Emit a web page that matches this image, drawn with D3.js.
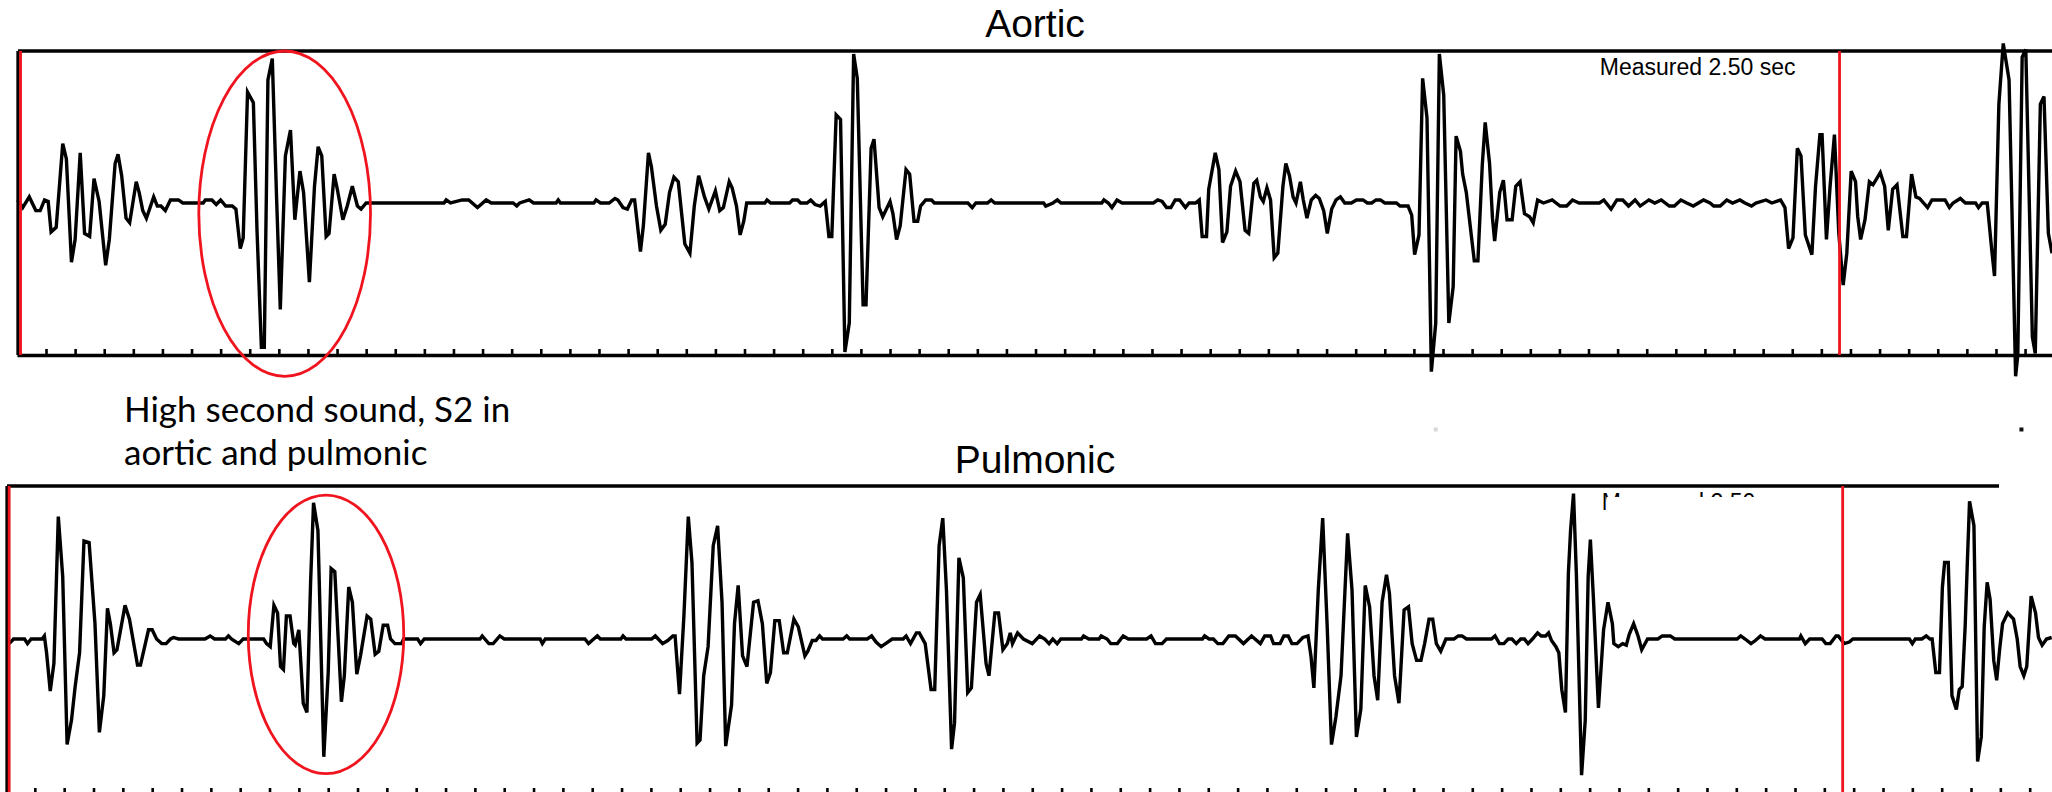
<!DOCTYPE html>
<html>
<head>
<meta charset="utf-8">
<script src="https://cdn.jsdelivr.net/npm/d3@7"></script>
<style>
  body { margin: 0; background: #fff; }
  .trace { fill: none; stroke: #000; stroke-width: 3.4; }
  .frame { stroke: #000; stroke-width: 3.3; }
  .cursor { stroke: #f0141e; stroke-width: 2.8; }
  .ring { fill: none; stroke: #f0141e; stroke-width: 2.8; }
  .title { font-family: "Liberation Sans", Arial, sans-serif; font-size: 39px; }
  .measured { font-family: "Liberation Sans", Arial, sans-serif; font-size: 23px; }
  .note { font-family: Lato, "Open Sans", sans-serif; font-size: 35px; }
</style>
</head>
<body>
<script>
const width = 2052;
const height = 792;

// Datos: tiempo en ms, amplitud relativa (-100..100 = alto del marco)
const panelTitles = ["Aortic", "Pulmonic"];
const measuredLabel = "Measured 2.50 sec";
const measuredAt = 2310;          // ms, centro de la etiqueta
const cursorTimes = [5, 2505];    // ms, cursores rojos (2.50 s)
const tickStep = 40;              // ms
const timeMax = 2800;
const noteLines = ["High second sound, S2 in", "aortic and pulmonic"];

const aorticTrace = [[1,2],[8,-3],[17,4],[26,-5],[32,-5],[38,2],[43,1],[47,-19],[54,-16],[63,39],[68,29],[75,-39],[80,-24],[87,33],[93,-20],[100,-22],[106,16],[113,1],[122,-41],[127,-24],[135,26],[139,32],[144,18],[150,-10],[155,-13],[164,14],[168,7],[173,-5],[178,-10],[188,4],[193,-2],[198,-2],[204,-5],[211,2],[222,2],[228,0],[256,0],[259,2],[268,2],[274,-1],[280,2],[287,-2],[296,-2],[301,-4],[307,-30],[311,-23],[317,73],[325,66],[330,-18],[336,-95],[340,-95],[345,81],[351,95],[357,2],[362,-70],[369,31],[376,48],[382,-11],[389,21],[394,7],[402,-52],[409,11],[414,37],[419,31],[425,-22],[429,-20],[436,19],[440,10],[448,-11],[454,-2],[461,11],[468,-2],[473,-4],[480,0],[587,0],[590,2],[596,0],[612,2],[621,2],[633,-3],[645,2],[652,0],[682,0],[687,-2],[691,0],[704,2],[710,0],[741,0],[744,2],[747,0],[793,0],[796,2],[802,0],[814,0],[822,3],[826,2],[833,-3],[839,-4],[845,2],[849,2],[857,-32],[861,-15],[868,33],[872,24],[879,-2],[885,-18],[891,-14],[897,7],[903,17],[909,14],[918,-27],[925,-33],[931,-2],[937,18],[945,4],[951,-4],[960,8],[966,-5],[971,-3],[979,14],[983,10],[989,-2],[994,-21],[999,-12],[1003,0],[1028,0],[1031,2],[1036,0],[1062,0],[1066,2],[1073,2],[1077,0],[1086,0],[1091,2],[1097,-1],[1104,-2],[1111,1],[1116,-22],[1120,-22],[1126,58],[1132,55],[1138,-98],[1144,-79],[1150,98],[1155,82],[1163,-67],[1167,-67],[1174,36],[1178,42],[1185,-3],[1190,-9],[1200,1],[1204,-7],[1209,-24],[1214,-15],[1222,22],[1227,19],[1233,-12],[1238,-12],[1242,-2],[1249,2],[1257,2],[1261,0],[1307,0],[1313,-3],[1318,0],[1334,0],[1339,2],[1344,0],[1411,0],[1414,-2],[1424,0],[1430,2],[1435,0],[1491,0],[1494,2],[1500,0],[1505,-3],[1512,2],[1519,0],[1562,0],[1568,2],[1574,1],[1580,-3],[1586,-3],[1592,2],[1598,2],[1606,-3],[1611,0],[1620,0],[1625,2],[1629,-22],[1635,-22],[1638,9],[1647,33],[1652,22],[1657,-26],[1663,-19],[1668,11],[1675,21],[1681,14],[1688,-18],[1693,-20],[1700,13],[1704,15],[1709,4],[1713,1],[1718,10],[1723,2],[1728,-36],[1733,-33],[1740,11],[1744,26],[1749,18],[1754,4],[1758,0],[1764,14],[1768,2],[1773,-10],[1779,2],[1785,5],[1790,3],[1796,-5],[1801,-20],[1807,-4],[1813,2],[1819,4],[1825,0],[1834,0],[1841,2],[1850,2],[1856,0],[1862,0],[1868,2],[1874,2],[1880,0],[1896,0],[1901,-2],[1912,-2],[1917,-8],[1921,-34],[1927,-21],[1932,82],[1938,56],[1944,-111],[1950,-79],[1955,98],[1961,71],[1968,-79],[1974,-55],[1978,44],[1984,34],[1987,19],[1992,7],[2003,-38],[2008,-38],[2014,25],[2018,53],[2024,26],[2028,-10],[2031,-25],[2038,7],[2043,15],[2048,-11],[2055,-11],[2060,11],[2066,14],[2072,-7],[2079,-9],[2084,-13],[2090,2],[2098,0],[2110,2],[2121,-2],[2130,-2],[2138,2],[2147,0],[2175,0],[2181,2],[2191,-4],[2199,2],[2207,2],[2215,-2],[2224,2],[2231,-2],[2243,2],[2251,0],[2260,2],[2271,-2],[2278,-2],[2287,2],[2295,0],[2304,-2],[2318,2],[2327,0],[2332,-2],[2341,-2],[2350,2],[2358,0],[2368,2],[2375,0],[2384,-2],[2390,0],[2404,2],[2412,0],[2424,2],[2430,-3],[2435,-30],[2441,-23],[2447,36],[2452,31],[2458,-21],[2467,-34],[2472,11],[2478,45],[2481,45],[2487,-24],[2492,11],[2498,45],[2504,-20],[2510,-54],[2515,-33],[2521,21],[2527,14],[2530,-9],[2534,-24],[2540,-11],[2546,14],[2551,12],[2561,20],[2567,11],[2572,-18],[2578,9],[2584,12],[2592,-22],[2597,-22],[2604,19],[2610,4],[2615,3],[2626,-3],[2632,2],[2650,2],[2656,-3],[2661,0],[2671,3],[2678,0],[2692,0],[2696,-3],[2701,0],[2708,0],[2714,-30],[2718,-48],[2724,65],[2730,105],[2738,81],[2747,-114],[2750,-100],[2756,96],[2761,101],[2770,-88],[2774,-99],[2781,65],[2786,70],[2792,-20],[2797,-33]];

const pulmonicTrace = [[5,-3],[11,0],[26,0],[30,-3],[35,0],[50,0],[53,2],[56,-9],[61,-34],[66,-16],[72,80],[78,41],[84,-69],[90,-53],[95,-31],[101,-9],[107,64],[114,63],[122,10],[128,-61],[134,-37],[139,20],[143,10],[148,-9],[152,-7],[163,22],[169,13],[180,-17],[184,-17],[195,6],[200,6],[206,0],[213,-3],[219,-3],[225,0],[229,1],[236,0],[272,0],[279,2],[285,0],[300,0],[304,2],[308,0],[318,-3],[324,0],[352,0],[356,-3],[361,-5],[366,22],[371,17],[375,-18],[379,-20],[383,15],[388,15],[393,-3],[395,-4],[400,6],[406,-42],[411,-48],[416,37],[420,89],[426,71],[434,-77],[440,-22],[444,46],[449,44],[458,-41],[462,-24],[468,34],[473,24],[479,-23],[484,-11],[493,15],[498,13],[504,-10],[509,-8],[515,9],[521,9],[525,0],[531,-3],[540,-3],[543,0],[562,0],[566,-3],[571,0],[647,0],[650,2],[659,-3],[665,-3],[674,2],[680,0],[729,0],[732,-3],[736,0],[790,0],[795,-3],[802,0],[807,2],[811,0],[839,0],[842,2],[846,0],[881,0],[886,2],[890,0],[896,-3],[903,-1],[910,2],[913,2],[919,-36],[925,15],[931,80],[936,50],[943,-68],[947,-66],[952,-24],[958,-5],[965,61],[971,74],[977,24],[982,-70],[990,-43],[994,10],[999,35],[1005,-11],[1011,-18],[1020,24],[1026,25],[1032,10],[1038,-29],[1043,-22],[1049,12],[1055,12],[1061,-9],[1066,-9],[1075,13],[1081,8],[1090,-11],[1094,-8],[1100,-1],[1105,-1],[1110,2],[1114,0],[1142,0],[1147,2],[1151,0],[1175,0],[1181,2],[1187,-2],[1194,-5],[1200,-3],[1209,0],[1224,0],[1228,2],[1234,-3],[1242,4],[1246,4],[1254,-3],[1262,-33],[1267,-33],[1273,61],[1278,79],[1283,32],[1290,-72],[1294,-55],[1300,53],[1306,40],[1312,-35],[1317,-32],[1324,24],[1329,29],[1337,-16],[1341,-24],[1349,17],[1354,17],[1360,-7],[1366,-3],[1370,4],[1373,-3],[1380,4],[1388,0],[1400,-3],[1410,2],[1417,0],[1423,-3],[1428,0],[1434,-3],[1439,0],[1467,0],[1470,2],[1477,0],[1491,0],[1494,2],[1502,0],[1507,-3],[1516,-3],[1524,2],[1531,0],[1556,0],[1562,2],[1568,-3],[1577,-3],[1583,0],[1632,0],[1635,2],[1641,0],[1647,0],[1653,-3],[1660,-3],[1668,2],[1677,2],[1688,-3],[1699,2],[1711,-3],[1717,2],[1725,2],[1729,-3],[1738,-3],[1743,2],[1749,2],[1754,-3],[1761,-3],[1769,1],[1776,2],[1780,-11],[1784,-32],[1790,32],[1796,79],[1802,10],[1808,-69],[1814,-51],[1821,-24],[1830,69],[1836,32],[1842,-64],[1848,-46],[1854,35],[1860,21],[1866,-24],[1871,-40],[1877,24],[1883,42],[1887,30],[1894,-24],[1900,-42],[1907,19],[1913,21],[1918,-3],[1924,-14],[1930,-14],[1935,-3],[1941,13],[1946,13],[1951,-3],[1957,-8],[1964,0],[1975,0],[1981,2],[1986,2],[1992,0],[2026,0],[2031,2],[2037,-3],[2043,-3],[2049,0],[2054,0],[2060,-3],[2066,0],[2071,0],[2076,-3],[2082,0],[2089,4],[2094,2],[2100,2],[2104,4],[2108,-1],[2114,-5],[2118,-9],[2122,-33],[2127,-48],[2131,43],[2134,71],[2138,95],[2142,41],[2149,-89],[2154,-53],[2158,41],[2161,65],[2165,28],[2172,-45],[2179,6],[2185,24],[2191,10],[2193,-3],[2199,-5],[2205,-3],[2210,-4],[2214,3],[2220,10],[2226,2],[2231,-7],[2239,0],[2253,0],[2259,2],[2270,2],[2276,0],[2361,0],[2366,2],[2372,0],[2380,-3],[2386,-1],[2393,2],[2399,0],[2446,0],[2448,2],[2454,-3],[2460,0],[2477,0],[2482,-3],[2488,-3],[2496,2],[2499,2],[2507,-3],[2514,-2],[2519,0],[2596,0],[2600,-3],[2604,0],[2613,0],[2619,2],[2624,0],[2627,0],[2632,-22],[2637,-22],[2641,34],[2644,50],[2649,50],[2654,-37],[2660,-46],[2664,-33],[2668,-31],[2672,8],[2675,50],[2678,90],[2684,74],[2689,-80],[2694,-64],[2698,8],[2702,37],[2706,26],[2711,-14],[2715,-27],[2719,-7],[2723,10],[2730,17],[2738,13],[2743,0],[2747,-18],[2752,-24],[2756,-18],[2762,28],[2768,17],[2772,1],[2777,-4],[2783,0],[2790,1]];

// Elipses rojas alrededor del S2 (centro y semiejes en ms / amplitud)
const s2Rings = [
  { t: 368, halfT: 118, a: -7, halfA: 107 },
  { t: 437, halfT: 106, a: 3, halfA: 91 }
];
// Restos sueltos de la traza aórtica bajo el marco
const strayMarks = [
  { t: 1950, a: -149, faint: true },
  { t: 2755, a: -149, faint: false }
];

// Diseño de cada panel (posiciones en píxeles)
const panels = [
  { title: panelTitles[0], trace: aorticTrace, ring: s2Rings[0],
    x0: 16.9, pxPerMs: 0.7276, top: 51, bottom: 355, axisY: 355,
    frameLeft: 18, frameRight: 2052, titleY: 37, labelY: 75, labelCut: null },
  { title: panelTitles[1], trace: pulmonicTrace, ring: s2Rings[1],
    x0: 5.5, pxPerMs: 0.7334, top: 486, bottom: 792, axisY: 794,
    frameLeft: 7, frameRight: 1999, titleY: 473, labelY: 510, labelCut: 497 }
];

const svg = d3.select("body").append("svg")
    .attr("width", width)
    .attr("height", height);

svg.append("rect").attr("width", width).attr("height", height).attr("fill", "#fff");

panels.forEach((p, i) => {
    const x = d3.scaleLinear()
        .domain([0, timeMax])
        .range([p.x0, p.x0 + timeMax * p.pxPerMs]);
    const y = d3.scaleLinear()
        .domain([-100, 100])
        .range([p.bottom, p.top]);

    const g = svg.append("g").attr("class", "panel");

    // titulo
    g.append("text")
        .attr("class", "title")
        .attr("x", 1035)
        .attr("y", p.titleY)
        .attr("text-anchor", "middle")
        .text(p.title);

    // etiqueta de medida
    g.append("text")
        .attr("class", "measured")
        .attr("x", x(measuredAt))
        .attr("y", p.labelY)
        .attr("text-anchor", "middle")
        .text(measuredLabel);
    if (p.labelCut) {
        // en el panel inferior la etiqueta queda tapada casi entera
        g.append("rect")
            .attr("x", x(measuredAt) - 93)
            .attr("y", p.labelCut)
            .attr("width", 196)
            .attr("height", 18)
            .attr("fill", "#fff");
    }

    // eje inferior con marcas cada 40 ms
    const axis = d3.axisTop(x)
        .tickValues(d3.range(tickStep, timeMax + 1, tickStep))
        .tickSize(6)
        .tickSizeOuter(0)
        .tickFormat("");
    g.append("g")
        .attr("transform", `translate(0,${p.axisY})`)
        .call(axis)
        .call(a => a.select(".domain").attr("stroke-width", 3.3))
        .call(a => a.selectAll(".tick line").attr("stroke-width", 2.6));

    // marco superior e izquierdo
    g.append("line").attr("class", "frame")
        .attr("x1", p.frameLeft).attr("x2", p.frameRight)
        .attr("y1", p.top).attr("y2", p.top);
    g.append("line").attr("class", "frame")
        .attr("x1", p.frameLeft).attr("x2", p.frameLeft)
        .attr("y1", p.top).attr("y2", p.axisY);

    // señal
    const line = d3.line()
        .x(d => x(d[0]))
        .y(d => y(d[1]));
    g.append("path")
        .datum(p.trace)
        .attr("class", "trace")
        .attr("d", line);

    // cursores rojos
    g.selectAll(".cursor")
        .data(cursorTimes)
        .join("line")
        .attr("class", "cursor")
        .attr("x1", d => x(d)).attr("x2", d => x(d))
        .attr("y1", p.top).attr("y2", p.axisY);

    // elipse S2
    g.append("ellipse")
        .attr("class", "ring")
        .attr("cx", x(p.ring.t))
        .attr("cy", y(p.ring.a))
        .attr("rx", x(p.ring.t + p.ring.halfT) - x(p.ring.t))
        .attr("ry", (y(-p.ring.halfA) - y(p.ring.halfA)) / 2);

    if (i === 0) {
        g.selectAll(".stray")
            .data(strayMarks)
            .join("rect")
            .attr("class", "stray")
            .attr("x", d => x(d.t) - 2)
            .attr("y", d => y(d.a) - 2)
            .attr("width", 4)
            .attr("height", 4)
            .attr("fill", d => d.faint ? "#d8d8d8" : "#111");
    }
});

// nota explicativa
svg.append("text")
    .attr("class", "note")
    .selectAll("tspan")
    .data(noteLines)
    .join("tspan")
    .attr("x", 124)
    .attr("y", (d, i) => 422 + i * 43)
    .text(d => d);
</script>
</body>
</html>
